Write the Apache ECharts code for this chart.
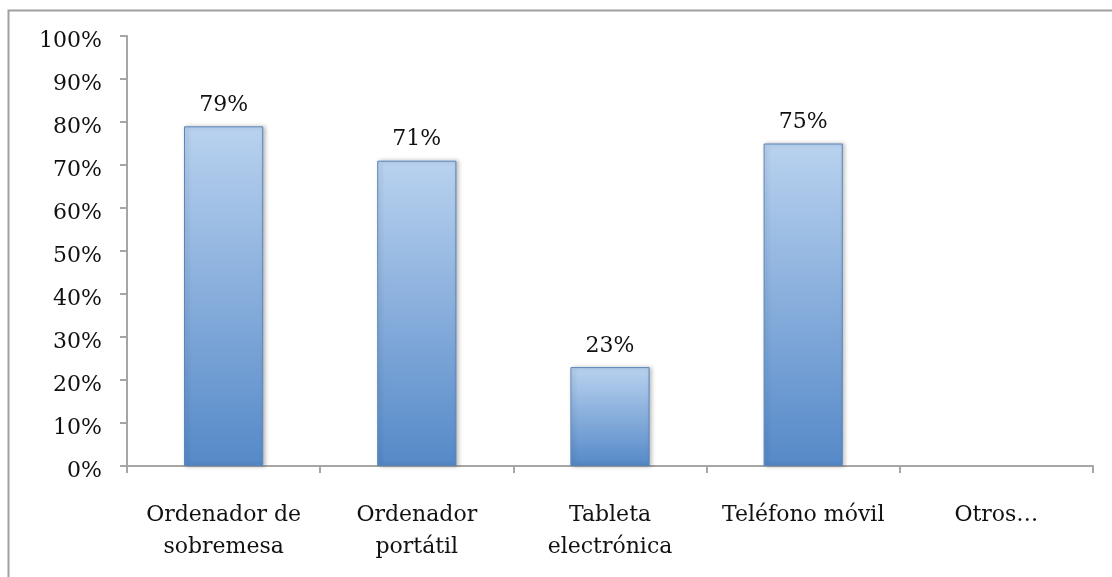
<!DOCTYPE html>
<html><head><meta charset="utf-8">
<script src="https://cdn.jsdelivr.net/npm/echarts@6/dist/echarts.min.js"></script>
<style>html,body{margin:0;padding:0;background:#fff}#c{width:1112px;height:577px}</style>
</head><body><div id="c"></div>
<script>
const categories = ['Ordenador de\nsobremesa', 'Ordenador\nportátil', 'Tableta\nelectrónica', 'Teléfono móvil', 'Otros…'];
const values = [79, 71, 23, 75, null];
const yTicks = [0, 10, 20, 30, 40, 50, 60, 70, 80, 90, 100];

const FONT = 'DejaVu Serif';
const chart = echarts.init(document.getElementById('c'), null, {renderer: 'canvas'});
chart.setOption({
  animation: false,
  backgroundColor: '#fff',
  graphic: [{
    type: 'rect', left: 6, top: 8, z: -1,
    shape: {width: 1200, height: 700},
    style: {fill: 'none', stroke: '#a0a0a0', lineWidth: 2}
  }],
  grid: {left: 127, right: 19, top: 36, bottom: 111},
  xAxis: {
    type: 'category',
    data: categories,
    axisLine: {lineStyle: {color: '#a6a6a6', width: 2}},
    axisTick: {show: true, length: 7, alignWithLabel: false, lineStyle: {color: '#a6a6a6', width: 2}},
    axisLabel: {color: '#111', fontFamily: FONT, fontSize: 22, lineHeight: 32, margin: 33, interval: 0}
  },
  yAxis: {
    type: 'value', min: yTicks[0], max: yTicks[yTicks.length - 1], interval: 10,
    axisLine: {show: true, lineStyle: {color: '#a6a6a6', width: 2}},
    axisTick: {show: true, length: 7, lineStyle: {color: '#a6a6a6', width: 2}},
    splitLine: {show: false},
    axisLabel: {
      color: '#111', fontFamily: FONT, fontSize: 22, margin: 25,
      formatter: v => '{a|' + v + '%}',
      rich: {a: {fontFamily: FONT, fontSize: 22, color: '#111', padding: [10, 0, 0, 0]}}
    }
  },
  series: [{
    type: 'bar',
    data: values,
    barCategoryGap: '59%',
    itemStyle: {
      color: new echarts.graphic.LinearGradient(0, 0, 0, 1, [
        {offset: 0, color: '#b9d2ef'},
        {offset: 1, color: '#5589c8'}
      ]),
      borderColor: '#5a86bb',
      borderWidth: 1,
      shadowColor: 'rgba(0,0,0,0.25)',
      shadowBlur: 4,
      shadowOffsetX: 2,
      shadowOffsetY: 0
    },
    label: {
      show: true, position: 'top', distance: 10,
      color: '#111', fontFamily: FONT, fontSize: 22,
      formatter: p => p.value == null ? '' : p.value + '%'
    }
  }]
});
</script></body></html>
